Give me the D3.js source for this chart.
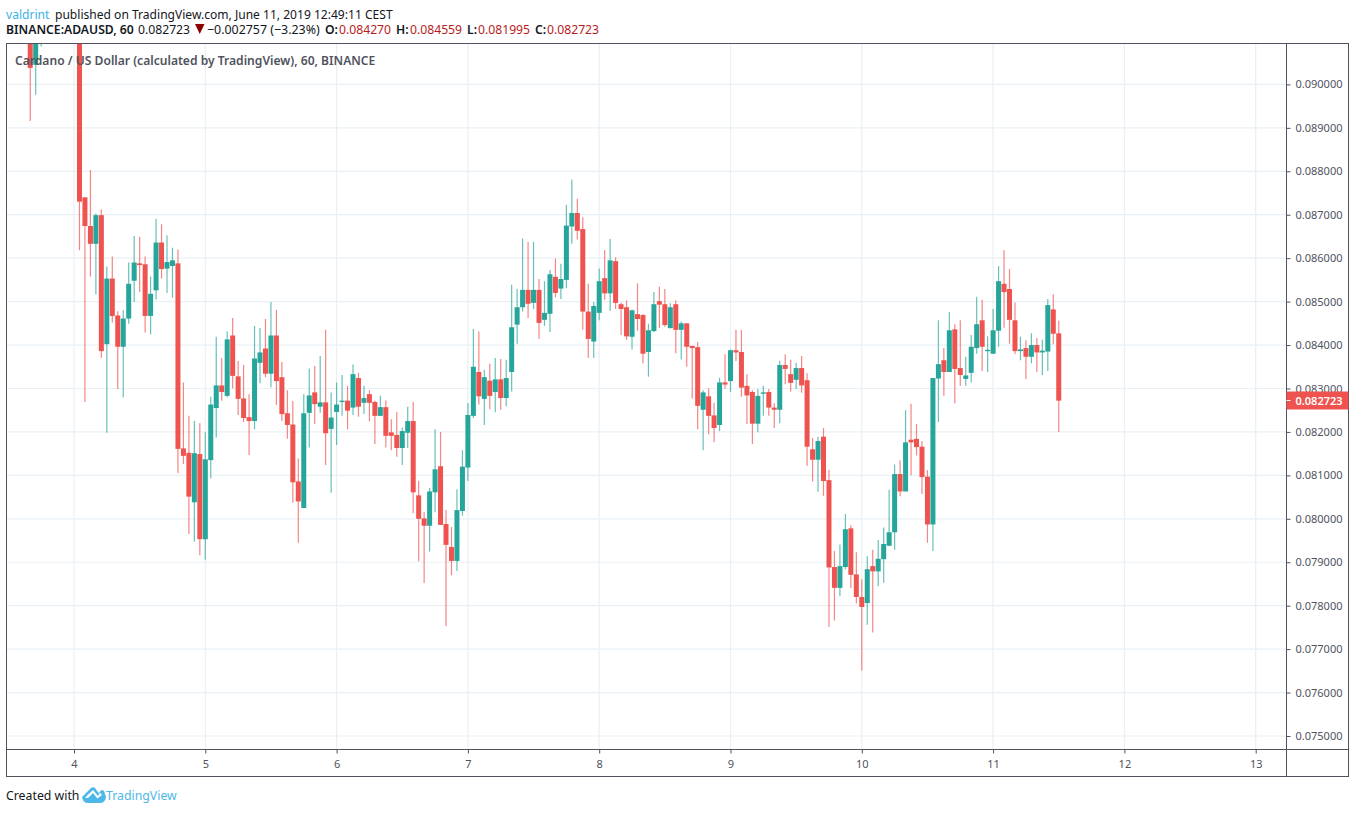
<!DOCTYPE html>
<html><head><meta charset="utf-8">
<script src="https://cdn.jsdelivr.net/npm/d3@7/dist/d3.min.js"></script>
<style>html,body{margin:0;padding:0;background:#fff}svg{display:block}text{font-family:"Noto Sans","Open Sans",sans-serif}</style>
</head><body><div id="chart"></div>
<script>
// Hourly candles: prices in thousandths of a USD. Index 0 = hour -8 relative to day 4 00:00.
const firstHour = -8;
const opens = [
91.50,90.45,91.50,91.70,92.20,92.50,92.30,92.40,92.00,91.50,
87.40,86.74,86.33,86.99,84.02,85.53,84.68,83.96,84.61,85.48,
85.88,85.86,84.67,85.26,86.36,85.76,85.82,85.88,81.62,81.52,
80.38,81.49,79.53,81.35,82.55,83.07,82.83,84.22,83.28,82.77,
82.34,82.25,83.59,83.92,83.34,84.22,83.26,82.43,82.17,80.86,
80.25,82.44,82.91,82.58,82.68,82.07,82.46,82.70,82.72,82.56,
83.24,82.67,82.87,82.69,82.37,82.57,81.99,81.93,81.63,81.98,
82.25,80.54,80.01,79.84,80.61,81.21,79.88,79.35,79.03,80.18,
81.18,82.37,83.38,82.76,83.18,82.92,83.21,82.78,83.38,84.47,
84.87,85.27,84.97,85.27,84.58,84.72,85.57,85.30,85.50,86.73,
87.04,86.67,84.77,84.08,84.74,85.54,85.19,85.93,84.94,84.87,
84.19,84.71,84.69,83.84,84.32,85.01,84.94,84.39,84.94,84.35,
84.50,83.98,83.95,82.51,82.82,82.38,82.16,83.14,83.17,83.88,
83.84,83.06,82.92,82.19,82.89,82.92,82.56,82.51,83.54,83.33,
83.20,83.47,83.19,81.60,81.36,81.89,80.89,78.89,78.41,78.89,
79.78,78.72,78.20,78.06,78.91,78.79,79.07,79.38,79.69,81.03,
80.63,81.82,81.84,81.66,80.97,79.87,83.23,83.65,83.38,84.36,
83.47,83.22,83.36,83.93,84.57,83.86,83.80,84.33,85.41,85.29,
84.57,83.86,83.93,83.73,84.00,83.83,83.85,84.82,84.27];
const closes = [
90.38,91.50,91.70,92.20,92.50,92.30,92.40,92.00,91.50,87.30,
86.74,86.33,86.99,83.86,85.53,84.67,83.96,84.61,85.41,85.90,
85.84,84.67,85.18,86.36,85.75,85.91,85.95,81.61,81.45,80.51,
81.51,79.53,81.37,82.63,83.07,82.92,84.13,83.29,82.76,82.32,
82.25,83.69,83.83,83.34,84.22,83.17,82.41,82.16,80.84,80.40,
82.43,82.84,82.64,82.68,81.97,82.33,82.63,82.72,82.49,83.33,
82.58,82.78,82.67,82.37,82.57,81.91,81.91,81.63,82.02,82.25,
80.61,80.00,79.84,80.63,81.14,79.86,79.40,79.03,80.20,81.20,
82.39,83.50,82.82,83.26,82.83,83.21,82.78,83.24,84.41,84.87,
85.27,84.95,85.27,84.51,84.74,85.63,85.20,85.52,86.75,87.04,
86.63,84.77,84.14,84.90,85.47,85.19,85.95,84.97,84.83,84.20,
84.80,84.60,83.80,84.34,84.94,84.93,84.46,84.87,84.35,84.50,
83.96,83.93,82.60,82.91,82.37,82.09,83.14,83.09,83.88,83.83,
83.02,82.84,82.19,82.83,82.91,82.56,82.51,83.54,83.45,83.13,
83.47,83.07,81.66,81.36,81.79,80.87,78.88,78.41,78.91,79.76,
78.71,78.20,77.97,78.84,78.79,79.08,79.42,79.69,81.03,80.63,
81.76,81.76,81.65,80.96,79.87,83.24,83.56,83.38,84.34,83.45,
83.31,83.30,83.96,84.48,83.96,83.89,84.34,85.47,85.22,84.58,
83.86,83.90,83.73,84.00,83.83,83.87,84.92,84.26,82.72];
const highs = [
92.00,92.00,92.00,92.40,92.80,93.00,92.80,92.90,92.30,91.80,
87.40,88.03,87.03,87.12,85.81,86.04,84.78,84.80,85.90,86.51,
86.49,86.04,85.58,86.91,86.78,86.53,86.24,86.20,83.14,82.37,
82.25,82.20,81.99,82.81,84.19,83.70,84.32,84.62,83.63,83.54,
82.87,84.44,84.39,84.60,84.99,84.81,83.61,82.96,82.71,81.39,
82.87,83.46,83.52,83.75,84.35,82.91,83.14,83.31,83.06,83.55,
83.36,83.06,82.96,82.72,82.83,82.73,82.29,82.46,82.10,82.58,
82.69,80.87,80.16,80.71,82.06,82.00,80.20,79.81,80.68,81.58,
82.66,84.37,84.31,83.43,83.57,83.70,83.68,83.66,85.39,85.29,
86.45,86.37,86.38,85.52,85.47,85.73,85.99,85.87,87.23,87.81,
87.37,86.94,85.41,84.99,85.76,86.19,86.44,86.02,84.98,85.03,
84.82,85.42,84.71,84.49,85.22,85.34,85.29,84.96,85.03,84.54,
84.50,83.98,84.07,82.96,83.00,82.67,83.25,83.79,83.90,84.35,
84.35,83.33,82.96,82.99,83.06,82.99,82.66,83.64,83.79,83.66,
83.59,83.75,83.35,81.86,81.89,82.09,81.13,79.26,79.41,80.11,
79.85,79.23,78.61,79.14,79.29,79.51,79.80,80.67,81.25,81.35,
82.50,82.65,82.18,81.79,81.12,83.24,84.57,83.93,84.76,84.48,
84.57,83.73,84.23,85.11,85.04,84.20,84.83,85.82,86.19,85.75,
84.98,84.19,84.11,84.27,84.16,84.12,85.06,85.17,84.56];
const lows = [
89.16,89.76,90.87,91.40,91.90,92.10,91.90,92.00,91.20,86.18,
82.69,85.58,85.17,83.71,81.98,84.52,82.99,82.79,84.49,84.99,
85.22,84.29,84.25,85.05,85.53,85.20,85.09,81.05,81.26,79.65,
79.48,79.16,79.06,80.93,81.87,82.72,82.80,83.00,82.39,82.23,
81.47,82.06,83.12,83.26,83.03,82.62,82.25,81.84,80.37,79.45,
80.25,81.64,82.18,82.44,81.24,80.60,81.70,82.37,82.06,82.39,
82.35,82.41,82.24,81.72,82.37,81.64,81.58,81.43,81.24,81.63,
80.13,79.02,78.52,79.25,80.15,79.86,77.53,78.70,78.80,80.07,
80.87,82.32,82.63,82.16,82.52,82.45,82.51,82.59,82.93,84.03,
84.77,84.62,84.83,84.14,84.44,84.30,85.10,85.06,85.31,86.33,
86.43,84.35,83.70,83.70,84.57,85.04,84.79,84.83,84.23,84.12,
83.90,84.33,83.58,83.27,84.30,84.39,84.42,84.38,83.81,83.67,
83.50,82.77,82.06,81.58,81.94,81.76,82.02,83.00,82.92,83.63,
82.81,82.18,81.72,81.99,82.37,82.37,82.09,82.20,83.10,82.93,
82.99,82.90,81.22,80.86,80.62,80.53,77.51,77.66,78.22,78.84,
78.40,78.05,76.51,77.56,77.38,78.45,78.53,79.37,79.29,80.52,
80.63,81.00,81.46,80.57,79.45,79.26,82.23,82.83,83.38,82.66,
83.06,83.06,83.14,83.80,83.40,83.38,83.80,83.96,84.40,84.03,
83.79,83.65,83.21,83.58,83.38,83.31,83.40,84.02,82.00];
const dayTicks = [4,5,6,7,8,9,10,11,12,13];
const priceTicks = [75,76,77,78,79,80,81,82,83,84,85,86,87,88,89,90];
const lastPrice = 82.723;

const UP = "#26a69a", DOWN = "#ef5350", FRAME = "#50535e", GRID = "#e8f0f6", TXT = "#50535e";
const L = 6.5, T = 43.5, R = 1348.5, B = 776.5, AX = 1286.5, AY = 749.5;

const svg = d3.select("#chart").append("svg").attr("width",1355).attr("height",813);
const x = d3.scaleLinear().domain([4,5]).range([74,205.3]);
const y = d3.scaleLinear().domain([75,90]).range([736,84.4]);
const xh = h => x(4 + h/24);

svg.append("defs").append("clipPath").attr("id","plot").append("rect")
  .attr("x",L).attr("y",T).attr("width",AX-L).attr("height",AY-T);

// grid
const grid = svg.append("g").attr("stroke",GRID).attr("stroke-width",1.2);
grid.selectAll("line.h").data(priceTicks).join("line").attr("class","h")
  .attr("x1",L).attr("x2",AX).attr("y1",d=>y(d)).attr("y2",d=>y(d));
grid.selectAll("line.v").data(dayTicks).join("line").attr("class","v")
  .attr("x1",d=>x(d)).attr("x2",d=>x(d)).attr("y1",T).attr("y2",AY);

// candles
const candles = opens.map((o,i)=>({h:firstHour+i,o,c:closes[i],hi:highs[i],lo:lows[i]}));
const plot = svg.append("g").attr("clip-path","url(#plot)");
const col = d => d.c >= d.o ? UP : DOWN;
plot.selectAll("line.w").data(candles).join("line").attr("class","w")
  .attr("x1",d=>xh(d.h)).attr("x2",d=>xh(d.h))
  .attr("y1",d=>y(d.hi)).attr("y2",d=>y(d.lo))
  .attr("stroke",col).attr("stroke-width",1.2).attr("stroke-opacity",.7);
plot.selectAll("rect.b").data(candles).join("rect").attr("class","b")
  .attr("x",d=>xh(d.h)-2.5).attr("width",5)
  .attr("y",d=>y(Math.max(d.o,d.c)))
  .attr("height",d=>Math.max(1.4,Math.abs(y(d.o)-y(d.c))))
  .attr("fill",col);

// frame
svg.append("rect").attr("x",L).attr("y",T).attr("width",R-L).attr("height",B-T)
  .attr("fill","none").attr("stroke",FRAME).attr("stroke-width",1);

// axes
const yAxis = d3.axisRight(y).tickValues(priceTicks).tickSize(4).tickPadding(5)
  .tickFormat(d=>d3.format(".6f")(d/1000));
const gy = svg.append("g").attr("transform",`translate(${AX},0)`).call(yAxis);
const xAxis = d3.axisBottom(x).tickValues(dayTicks).tickSize(4).tickPadding(7).tickFormat(d3.format("d"));
const gx = svg.append("g").attr("transform",`translate(0,${AY})`).call(xAxis);
[gy,gx].forEach(g=>{
  g.select(".domain").attr("stroke",FRAME).attr("stroke-width",1);
  g.selectAll(".tick line").attr("stroke",FRAME);
  g.selectAll(".tick text").attr("fill",TXT).style("font-size","11px").style("font-family",'"Noto Sans"');
});
gy.select(".domain").attr("d",`M0,${T}V${B}`);
gx.select(".domain").attr("d",`M${L},0H${AX+62}`);

// last-price label
const ly = y(lastPrice);
svg.append("rect").attr("x",AX).attr("y",ly-9).attr("width",R-AX).attr("height",18).attr("fill",DOWN);
svg.append("line").attr("x1",AX).attr("x2",AX+4).attr("y1",ly).attr("y2",ly).attr("stroke","#fff");
svg.append("text").attr("x",AX+9).attr("y",ly+4).attr("fill","#fff").attr("font-weight",600)
  .style("font-size","11px").text(d3.format(".6f")(lastPrice/1000));

// header
function t(xp,yp,s,fill,size,weight){
  return svg.append("text").attr("x",xp).attr("y",yp).attr("fill",fill||"#131722")
    .attr("font-weight",weight||400).style("font-size",(size||12)+"px").text(s);
}
t(6,18.5,"valdrint","#3bb3e4",12.1);
t(55,18.5,"published on TradingView.com, June 11, 2019 12:49:11 CEST","#131722",12.07);
t(6,34,"BINANCE:ADAUSD, 60","#131722",12.2,600);
t(138,34,"0.082723","#131722",12.2);
svg.append("path").attr("d","M195,30 h9.5 l-4.75,10 z").attr("transform","translate(0,-6)").attr("fill","#8b0000");
t(207,34,"−0.002757 (−3.23%)","#131722",12.4);
const ohlcLabels = ["O:","H:","L:","C:"], ohlcVals = ["0.084270","0.084559","0.081995","0.082723"];
const ohlcLX = [325,396,467,535], ohlcVX = [339,410,478,547];
ohlcLabels.forEach((s,i)=>{ t(ohlcLX[i],34,s,"#131722",12.2,600); t(ohlcVX[i],34,ohlcVals[i],"#b71c1c",12.2); });
t(15,65,"Cardano / US Dollar (calculated by TradingView), 60, BINANCE","#50535e",12.1,600);

// footer
t(6,800,"Created with","#131722",12.3);
svg.append("path").attr("fill","#4db8e8")
  .attr("d","M82,797 L91,788 Q93,786.5 95,788 L98.5,793 L101,790.5 Q102.5,789.5 104,791 L106,797 Q105,803 100,803 L88,803 Q83,803 82,797 Z M88,798 L93,793 L97.5,798.5 L102,795 L100,792.5 L98,796 L93,790 L85,797.5 Z");
t(106,800,"TradingView","#4db8e8",12.3);
</script></body></html>
